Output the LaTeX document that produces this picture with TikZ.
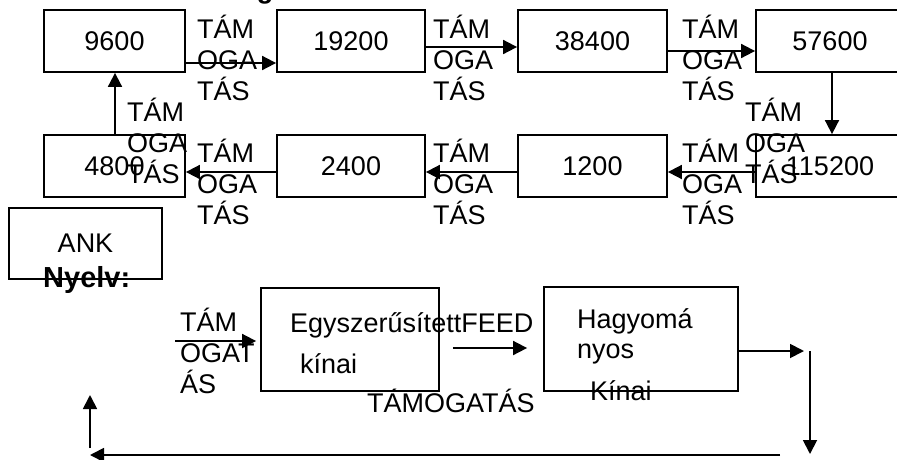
\documentclass[tikz,border=0pt]{standalone}
\usepackage{fontspec}
\setmainfont{Liberation Sans}
\usetikzlibrary{arrows.meta, positioning}
\tikzset{
  every picture/.style={x=1pt, y=-1pt, >={Triangle[length=14pt, width=14pt]}},
  doboz/.style={draw, line width=1.8pt, minimum height=62pt, inner sep=0pt,
                font=\fontsize{27}{31}\selectfont},
  keret/.style={draw, line width=1.8pt, inner sep=0pt},
  cimke/.style={anchor=base west, align=left, inner sep=0pt,
                font=\fontsize{27}{31}\selectfont},
  szoveg/.style={anchor=base west, inner sep=0pt, font=\fontsize{27}{31}\selectfont},
  nyil/.style={->, line width=1.8pt},
}

\begin{document}
\begin{tikzpicture}
  \useasboundingbox (0,0) rectangle (897,459);
  % cimsor maradeka
  \node[anchor=base, inner sep=0pt, font=\fontsize{27}{31}\selectfont\bfseries] (cim) at (265,-2) {g};
  % felso es also sor
  \foreach \t/\x/\w [count=\i] in {9600/114.5/141, 19200/351/148, 38400/592.5/149, 57600/830/148} {
    \node[doboz, minimum width=\w pt] (f\i) at (\x,41) {\t};
  }
  \foreach \t/\x/\w [count=\i] in {4800/114.5/141, 2400/351/148, 1200/592.5/149, 115200/830/148} {
    \node[doboz, minimum width=\w pt] (a\i) at (\x,166) {\t};
  }
  \draw[nyil] (f1.east |- 0,63) -- (f2.west |- 0,63);
  \draw[nyil] (f2.east |- 0,47) -- (f3.west |- 0,47);
  \draw[nyil] (f3.east |- 0,51) -- (f4.west |- 0,51);
  \draw[nyil] (f4.south -| 832,0) -- (a4.north -| 832,0);
  \draw[nyil] (a4.west |- 0,172) -- (a3.east |- 0,172);
  \draw[nyil] (a3.west |- 0,172) -- (a2.east |- 0,172);
  \draw[nyil] (a2.west |- 0,172) -- (a1.east |- 0,172);
  \draw[nyil] (a1.north -| 115,0) -- (f1.south -| 115,0);
  % cimkek (az utolso sor alapvonalan)
  \foreach \x/\y [count=\i] in {197/100, 433/100, 682/100, 745/183, 682/224, 433/224, 197/224, 127/183} {
    \node[cimke] (t\i) at (\x,\y) {TÁM\\OGA\\TÁS};
  }
  % nyelvek
  \node[keret, minimum width=153pt, minimum height=71pt, font=\fontsize{27}{31}\selectfont] (ank) at (85.5,243.5) {ANK};
  \node[szoveg, font=\fontsize{29}{31}\selectfont\bfseries] (nyelv) at (43,287) {Nyelv:};
  \node[keret, minimum width=178pt, minimum height=103pt] (egy) at (350,339.5) {};
  \node[keret, minimum width=194pt, minimum height=104pt] (hagy) at (641,339) {};
  \node[szoveg] (egyt) at (290,332) {EgyszerűsítettFEED};
  \node[szoveg] (kinai) at (300,373) {kínai};
  \node[szoveg] (tamog) at (367,412) {TÁMOGATÁS};
  \node[szoveg] (hagyt) at (577,328) {Hagyomá};
  \node[szoveg] (nyos) at (577,358) {nyos};
  \node[szoveg] (kinai2) at (590,400) {Kínai};
  \node[cimke] (t9) at (180,393) {TÁM\\OGAT\\ÁS};
  \coordinate (be) at (175,341);
  \coordinate (jobb) at (804,351);
  \coordinate (jf) at (810,351);
  \coordinate (ja) at (810,454);
  \coordinate (la) at (780,455);
  \coordinate (ba) at (90,455);
  \coordinate (bl) at (90,448);
  \coordinate (bf) at (90,395);
  \draw[nyil, shorten >=4pt] (be) -- (egy.west |- be);
  \draw[nyil, shorten <=13pt, shorten >=16pt] (egy.east |- 0,348) -- (hagy.west |- 0,348);
  \draw[nyil] (hagy.east |- jobb) -- (jobb);
  \draw[nyil] (jf) -- (ja);
  \draw[nyil] (la) -- (ba);
  \draw[nyil] (bl) -- (bf);
\end{tikzpicture}
\end{document}
